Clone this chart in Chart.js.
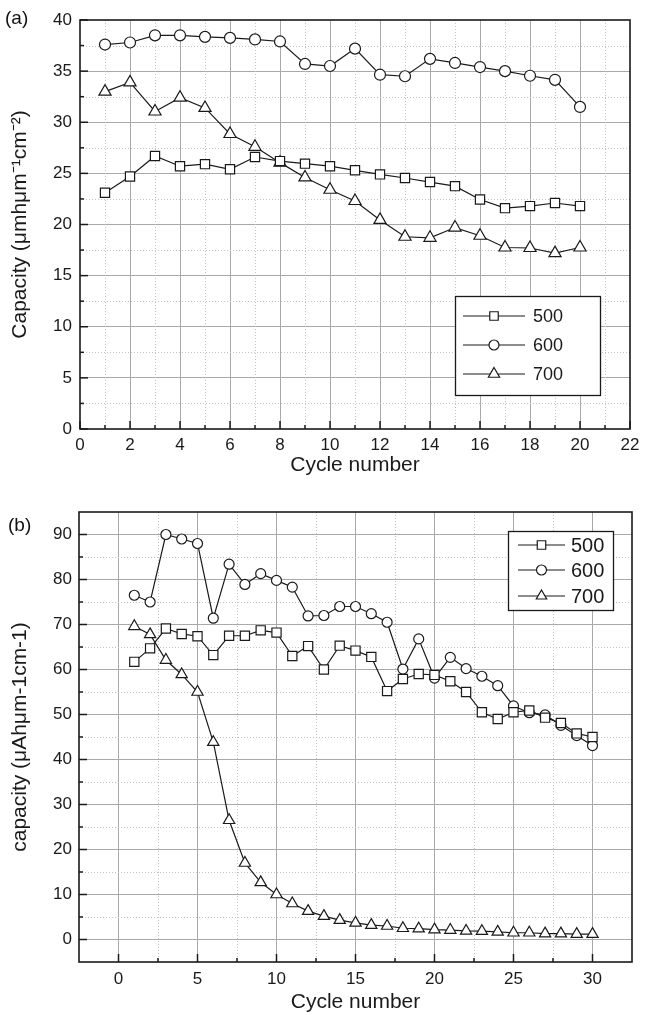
<!DOCTYPE html>
<html><head><meta charset="utf-8">
<script src="https://cdn.jsdelivr.net/npm/chart.js@4.4.1/dist/chart.umd.min.js"></script>
<style>
html,body{margin:0;padding:0;background:#fff;}
body{width:646px;height:1015px;position:relative;overflow:hidden;font-family:"Liberation Sans",Arial,sans-serif;}
.wrap{position:absolute;left:0;width:646px;}
#wa{top:0;height:480px;}
#wb{top:480px;height:535px;}
.tag{position:absolute;font-size:19px;color:#111;line-height:22px;}
</style></head><body>
<div id="wa" class="wrap"><canvas id="ca" width="646" height="480"></canvas></div>
<div id="wb" class="wrap"><canvas id="cb" width="646" height="535"></canvas></div>
<div class="tag" style="left:5px;top:7px">(a)</div>
<div class="tag" style="left:8px;top:514px">(b)</div>
<script>
// ---------- DATA: chart (a) ----------
const cyclesA = [1,2,3,4,5,6,7,8,9,10,11,12,13,14,15,16,17,18,19,20];
const capA500 = [23.1,24.7,26.7,25.7,25.9,25.4,26.6,26.2,25.95,25.7,25.3,24.9,24.55,24.15,23.75,22.45,21.6,21.8,22.1,21.8];
const capA600 = [37.6,37.8,38.5,38.5,38.35,38.25,38.1,37.9,35.7,35.5,37.2,34.65,34.5,36.2,35.8,35.4,35.0,34.55,34.15,31.5];
const capA700 = [33.0,33.9,31.05,32.4,31.4,28.85,27.6,26.05,24.6,23.4,22.3,20.45,18.8,18.7,19.7,18.9,17.75,17.7,17.2,17.75];
const xTicksA = [0,2,4,6,8,10,12,14,16,18,20,22];
const xMinorA = [1,3,5,7,9,11,13,15,17,19,21];
const yTicksA = [0,5,10,15,20,25,30,35,40];
const yMinorA = [2.5,7.5,12.5,17.5,22.5,27.5,32.5,37.5];

// ---------- DATA: chart (b) ----------
const cyclesB = [1,2,3,4,5,6,7,8,9,10,11,12,13,14,15,16,17,18,19,20,21,22,23,24,25,26,27,28,29,30];
const capB500 = [61.7,64.7,69.1,67.9,67.4,63.2,67.5,67.5,68.7,68.2,63.0,65.2,60.0,65.3,64.2,62.8,55.2,57.9,59.0,58.8,57.4,55.0,50.5,49.0,50.5,50.9,49.3,48.1,45.8,45.0];
const capB600 = [76.5,75.0,90.0,89.0,88.0,71.4,83.4,78.9,81.3,79.8,78.3,71.9,72.0,74.0,74.0,72.4,70.5,60.1,66.8,58.1,62.7,60.2,58.5,56.4,51.9,50.4,49.9,47.6,45.3,43.1];
const capB700 = [69.6,67.8,62.1,58.9,55.0,43.85,26.5,17.0,12.7,10.0,8.0,6.3,5.2,4.3,3.7,3.2,3.0,2.5,2.4,2.2,2.1,1.9,1.85,1.7,1.5,1.5,1.3,1.3,1.2,1.2];
const xTicksB = [0,5,10,15,20,25,30];
const xMinorB = [2.5,7.5,12.5,17.5,22.5,27.5];
const yTicksB = [0,10,20,30,40,50,60,70,80,90];
const yMinorB = [5,15,25,35,45,55,65,75,85];

const seriesLabels = ['500','600','700'];
const FONT = '"Liberation Sans", Arial, sans-serif';
const INK = '#1a1a1a';

function pts(xs, ys){ return xs.map((x,i)=>({x:x, y:ys[i]})); }

// minor grid, inward ticks, frame
const framePlugin = {
  id:'frame',
  beforeDatasetsDraw(chart, args, o){
    const {ctx, chartArea:a} = chart;
    const x = chart.scales.x, y = chart.scales.y;
    ctx.save();
    ctx.strokeStyle = '#c2c2c2'; ctx.lineWidth = 1; ctx.setLineDash([1,2]);
    o.xMinor.forEach(v=>{const p=Math.round(x.getPixelForValue(v))+0.5; ctx.beginPath(); ctx.moveTo(p,a.top); ctx.lineTo(p,a.bottom); ctx.stroke();});
    o.yMinor.forEach(v=>{const p=Math.round(y.getPixelForValue(v))+0.5; ctx.beginPath(); ctx.moveTo(a.left,p); ctx.lineTo(a.right,p); ctx.stroke();});
    ctx.setLineDash([]);
    ctx.strokeStyle = INK; ctx.lineWidth = 1.5;
    const tick = (x1,y1,x2,y2)=>{ctx.beginPath(); ctx.moveTo(x1,y1); ctx.lineTo(x2,y2); ctx.stroke();};
    o.xMajor.forEach(v=>{const p=x.getPixelForValue(v); tick(p,a.bottom,p,a.bottom-8);});
    o.xMinor.forEach(v=>{const p=x.getPixelForValue(v); tick(p,a.bottom,p,a.bottom-4);});
    o.yMajor.forEach(v=>{const p=y.getPixelForValue(v); tick(a.left,p,a.left+8,p);});
    o.yMinor.forEach(v=>{const p=y.getPixelForValue(v); tick(a.left,p,a.left+4,p);});
    ctx.lineWidth = 1.6;
    ctx.strokeRect(a.left, a.top, a.width, a.height);
    ctx.restore();
  }
};

const legendPlugin = {
  id:'boxLegend',
  afterDatasetsDraw(chart, args, o){
    const ctx = chart.ctx;
    ctx.save();
    ctx.fillStyle = '#fff'; ctx.fillRect(o.x, o.y, o.w, o.h);
    ctx.strokeStyle = INK; ctx.lineWidth = 1.3; ctx.strokeRect(o.x+0.5, o.y+0.5, o.w, o.h);
    chart.data.datasets.forEach((ds,i)=>{
      const yy = o.rows[i];
      ctx.strokeStyle = INK; ctx.lineWidth = 1.2;
      ctx.beginPath(); ctx.moveTo(o.lx1, yy); ctx.lineTo(o.lx2, yy); ctx.stroke();
      ctx.fillStyle = '#fff'; ctx.strokeStyle = INK;
      Chart.helpers.drawPoint(ctx, {pointStyle: ds.pointStyle, radius: o.radius[i], rotation: 0, borderWidth: 1.2}, (o.lx1+o.lx2)/2, yy);
      ctx.fillStyle = INK; ctx.font = o.size + 'px ' + FONT; ctx.textBaseline = 'middle'; ctx.textAlign = 'left';
      ctx.fillText(ds.label, o.tx, yy + 1);
    });
    ctx.restore();
  }
};

function makeDatasets(xs, a, b, c, r){
  const styles = ['rect','circle','triangle'];
  return [a,b,c].map((ys,i)=>({
    label: seriesLabels[i], data: pts(xs, ys), showLine: true,
    borderColor: INK, borderWidth: 1.2, backgroundColor: '#fff',
    pointStyle: styles[i], pointRadius: r[i], pointBorderWidth: 1.2,
    pointBackgroundColor: '#fff', pointBorderColor: INK, tension: 0
  }));
}

function axis(min, max, ticks, opts){
  return Object.assign({
    type:'linear', min:min, max:max,
    afterBuildTicks: s=>{ s.ticks = ticks.map(v=>({value:v})); },
    ticks:{ color: INK, font:{family:FONT, size:17}, autoSkip:false, maxRotation:0, callback: v=>String(v) },
    grid:{ color: c => (c.tick && (c.tick.value===min || c.tick.value===max)) ? 'rgba(0,0,0,0)' : '#a9a9a9', lineWidth:1, drawTicks:false },
    border:{ display:false }
  }, opts);
}

function build(id, cfg){
  const xs = axis(cfg.xMin, cfg.xMax, cfg.xTicks, {});
  xs.ticks.padding = cfg.xPad;
  xs.title = {display:true, text:'Cycle number', color: INK, font:{family:FONT, size:21}, padding:{top:0,bottom:cfg.xTitlePad}};
  xs.afterFit = s=>{ s.height = cfg.xH; };
  const ys = axis(cfg.yMin, cfg.yMax, cfg.yTicks, {});
  ys.ticks = Object.assign({}, ys.ticks, {padding: cfg.yPad});
  ys.title = {display:true, text: cfg.yTitle, color: INK, font:{family:FONT, size:21}, padding:{top:cfg.yTitlePad,bottom:0}};
  ys.afterFit = s=>{ s.width = cfg.yW; };
  return new Chart(document.getElementById(id), {
    type:'scatter',
    data:{ datasets: cfg.datasets },
    options:{
      responsive:false, animation:false, devicePixelRatio:1,
      layout:{ padding:{ top: cfg.padTop, right: cfg.padRight, left:0, bottom:0 } },
      scales:{ x: xs, y: ys },
      plugins:{
        legend:{display:false}, tooltip:{enabled:false},
        frame:{ xMajor: cfg.xTicks, xMinor: cfg.xMinor, yMajor: cfg.yTicks, yMinor: cfg.yMinor },
        boxLegend: cfg.legend
      }
    },
    plugins:[framePlugin, legendPlugin]
  });
}

build('ca', {
  datasets: makeDatasets(cyclesA, capA500, capA600, capA700, [6.5,5.5,7]),
  xMin:0, xMax:22, xTicks:xTicksA, xMinor:xMinorA,
  yMin:0, yMax:40, yTicks:yTicksA, yMinor:yMinorA,
  yTitle:'Capacity (\u03bcmh\u03bcm\u207b\u00b9cm\u207b\u00b2)',
  xPad:6, xH:51, xTitlePad:2, yPad:8, yW:80, yTitlePad:8, padTop:20, padRight:16,
  legend:{ x:455, y:296, w:145, h:99, rows:[316,345,374], lx1:463, lx2:525, tx:533, size:18, radius:[6,5,6.5] }
});

build('cb', {
  datasets: makeDatasets(cyclesB, capB500, capB600, capB700, [6.5,5,6.5]),
  xMin:-2.5, xMax:32.5, xTicks:xTicksB, xMinor:xMinorB,
  yMin:-5, yMax:95, yTicks:yTicksB, yMinor:yMinorB,
  yTitle:'capacity (\u03bcAh\u03bcm-1cm-1)',
  xPad:7, xH:53, xTitlePad:0, yPad:7, yW:79, yTitlePad:8, padTop:32, padRight:14,
  legend:{ x:508, y:51, w:105, h:79, rows:[65,90,116], lx1:518, lx2:565, tx:571, size:20, radius:[6,5,6] }
});
</script>
</body></html>
